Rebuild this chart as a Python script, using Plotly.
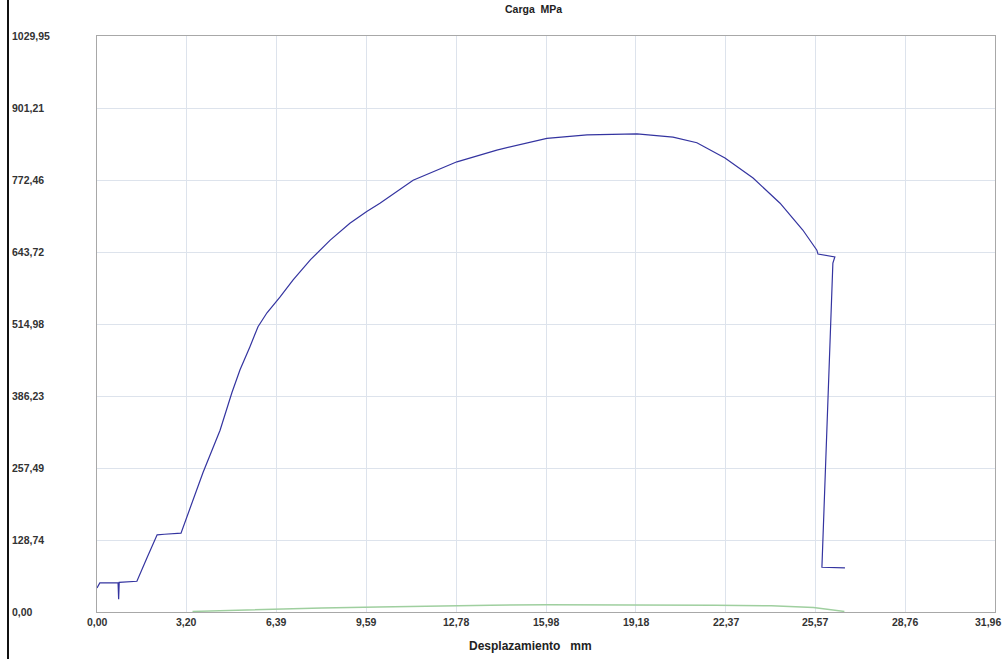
import plotly.graph_objects as go

# Blue series: Carga (MPa) vs Desplazamiento (mm)
disp = [0.00, 0.10, 0.75, 0.77, 0.79, 1.42, 1.78, 2.14, 2.40, 2.99, 3.77, 4.38, 4.80,
        5.09, 5.44, 5.73, 6.05, 6.51, 6.98, 7.60, 8.30, 9.00, 9.60, 10.07, 11.25,
        12.81, 14.23, 16.01, 17.44, 19.22, 20.50, 21.35, 22.35, 23.35, 24.31, 25.12,
        25.62, 25.66, 26.26, 26.19, 25.80, 26.62]
carga = [43, 52, 52, 23, 53, 55, 97, 138, 139, 141, 249, 325, 392,
         433, 474, 510, 535, 563, 594, 630, 665, 695, 716, 731, 772,
         805, 826, 847, 853, 855, 849, 839, 812, 776, 731, 683,
         647, 640, 635, 624, 80, 79]

# Green series (near zero)
disp2 = [3.40, 6.00, 8.00, 10.00, 12.00, 14.00, 16.00, 18.00, 20.00, 22.00, 24.00, 25.50, 26.60]
carga2 = [1, 5, 7, 9, 11, 12, 13, 13, 13, 12, 11, 8, 1]

x_ticks = [0.00, 3.20, 6.39, 9.59, 12.78, 15.98, 19.18, 22.37, 25.57, 28.76, 31.96]
x_labels = ["0,00", "3,20", "6,39", "9,59", "12,78", "15,98", "19,18", "22,37", "25,57", "28,76", "31,96"]
y_ticks = [0.00, 128.74, 257.49, 386.23, 514.98, 643.72, 772.46, 901.21, 1029.95]
y_labels = ["0,00", "128,74", "257,49", "386,23", "514,98", "643,72", "772,46", "901,21", "1029,95"]

W, H = 1008, 659
ML, MR, MT, MB = 97, 13, 36, 47
PW, PH = W - ML - MR, H - MT - MB

fig = go.Figure()
fig.add_trace(go.Scatter(x=disp2, y=carga2, mode="lines",
                         line=dict(color="#9fcf9f", width=1.5), showlegend=False))
fig.add_trace(go.Scatter(x=disp, y=carga, mode="lines",
                         line=dict(color="#3434a0", width=1.2), showlegend=False))

tickfont = dict(family="Liberation Sans, Arial", size=10.5, color="#333333", weight="bold")
fig.update_xaxes(range=[0, 31.96], tickvals=x_ticks, showticklabels=False, automargin=False,
                 showgrid=True, gridcolor="#dde3ec", gridwidth=1, zeroline=False,
                 showline=True, mirror=True, linecolor="#a8a8a8", linewidth=1,
                 ticks="", ticklen=0)
fig.update_yaxes(range=[0, 1029.95], tickvals=y_ticks, showticklabels=False, automargin=False,
                 showgrid=True, gridcolor="#dde3ec", gridwidth=1, zeroline=False,
                 showline=True, mirror=True, linecolor="#a8a8a8", linewidth=1, ticks="")

annotations = []
for v, t in zip(y_ticks, y_labels):
    annotations.append(dict(x=(10 - ML) / PW, xref="paper", y=v, yref="y",
                            text=t, showarrow=False, xanchor="left", yanchor="middle",
                            font=tickfont))
for i, (v, t) in enumerate(zip(x_ticks, x_labels)):
    last = i == len(x_ticks) - 1
    annotations.append(dict(x=v, xref="x", y=(H - MB - 622) / PH, yref="paper",
                            text=t, showarrow=False,
                            xanchor="right" if last else "center", xshift=8 if last else 0,
                            yanchor="middle", font=tickfont))
annotations.append(dict(x=(530 - ML) / PW, xref="paper", y=(H - MB - 646) / PH, yref="paper",
                        text="Desplazamiento\u00a0\u00a0\u00a0mm", showarrow=False,
                        xanchor="center", yanchor="middle",
                        font=dict(family="Liberation Sans, Arial", size=12, color="#222222", weight="bold")))
annotations.append(dict(x=(533 - ML) / PW, xref="paper", y=(H - MB - 9) / PH, yref="paper",
                        text="Carga\u00a0\u00a0MPa", showarrow=False,
                        xanchor="center", yanchor="middle",
                        font=dict(family="Liberation Sans, Arial", size=10.5, color="#222222", weight="bold")))

fig.update_layout(
    width=W, height=H,
    margin=dict(l=ML, r=MR, t=MT, b=MB, autoexpand=False),
    paper_bgcolor="white", plot_bgcolor="white",
    annotations=annotations,
    shapes=[dict(type="line", xref="paper", yref="paper",
                 x0=(8 - ML) / PW, x1=(8 - ML) / PW,
                 y0=-MB / PH, y1=(H - MB) / PH,
                 line=dict(color="#111111", width=2))],
)
fig.write_html("out.html")
